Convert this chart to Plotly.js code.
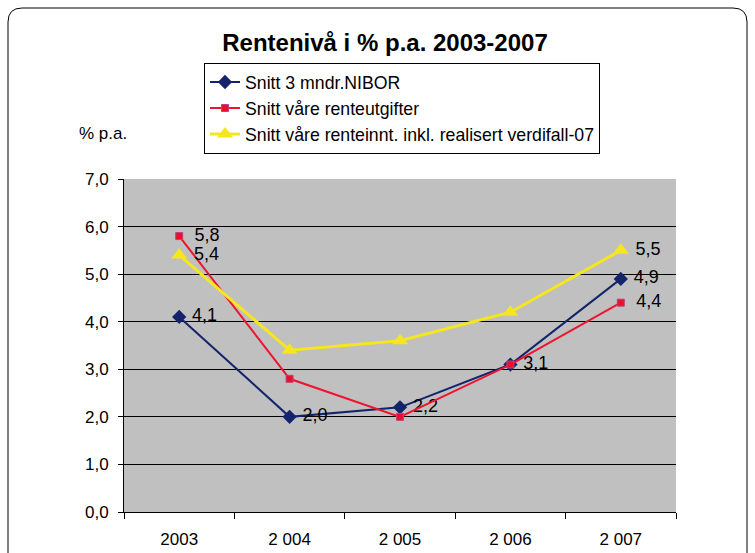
<!DOCTYPE html>
<html>
<head>
<meta charset="utf-8">
<script src="https://cdn.plot.ly/plotly-3.0.1.min.js"></script>
<style>
html,body{margin:0;padding:0;background:#fff;}
#chart{width:755px;height:553px;}
</style>
</head>
<body>
<div id="chart"></div>
<script>
const categories = ["2003", "2 004", "2 005", "2 006", "2 007"];
const seriesNames = ["Snitt 3 mndr.NIBOR", "Snitt våre renteutgifter", "Snitt våre renteinnt. inkl. realisert verdifall-07"];
const nibor = [4.1, 2.0, 2.2, 3.1, 4.9];
const utgifter = [5.8, 2.8, 2.0, 3.1, 4.4];
const inntekter = [5.4, 3.4, 3.6, 4.2, 5.5];
const niborLabels = ["4,1", "2,0", "2,2", "3,1", "4,9"];
const utgifterLabels = ["5,8", "", "", "", "4,4"];
const inntekterLabels = ["5,4", "", "", "", "5,5"];
const yTickVals = [0, 1, 2, 3, 4, 5, 6, 7];
const yTickText = ["0,0", "1,0", "2,0", "3,0", "4,0", "5,0", "6,0", "7,0"];

const W = 755, H = 553;
const M = {l: 124, r: 79, t: 179, b: 41};
const pw = W - M.l - M.r, ph = H - M.t - M.b;
const px = x => (x - M.l) / pw;
const py = y => (H - M.b - y) / ph;

const FF = "Liberation Sans, Arial, sans-serif";
const labelFont = {family: FF, size: 18, color: "#000"};
const sp1 = "\u00a0", sp2 = "\u00a0\u00a0";

const traces = [
  {
    x: categories, y: nibor, name: seriesNames[0], type: "scatter", mode: "lines+markers+text",
    text: niborLabels, texttemplate: sp1 + "%{text}", textposition: "middle right", textfont: labelFont,
    line: {color: "#14246B", width: 2},
    marker: {symbol: "diamond", size: 11, color: "#14246B"}
  },
  {
    x: categories, y: utgifter, name: seriesNames[1], type: "scatter", mode: "lines+markers+text",
    text: utgifterLabels, texttemplate: utgifterLabels.map(t => t ? sp2 + t : ""), textposition: "middle right", textfont: labelFont,
    line: {color: "#EE1430", width: 2},
    marker: {symbol: "square", size: 7, color: "#E8102A", line: {color: "#C04080", width: 1}}
  },
  {
    x: categories, y: inntekter, name: seriesNames[2], type: "scatter", mode: "lines+markers+text",
    text: inntekterLabels, texttemplate: inntekterLabels.map(t => t ? sp1 + t : ""), textposition: "middle right", textfont: labelFont,
    line: {color: "#F5E61E", width: 3},
    marker: {symbol: "triangle-up", size: 14, color: "#F5E61E"}
  }
];

// rounded outer frame (pixel -> paper)
const fl = 8, ft = 8, fr = 747, fb = 620, rad = 14;
const framePath = `M ${px(fl)} ${py(fb)} L ${px(fl)} ${py(ft+rad)} Q ${px(fl)} ${py(ft)} ${px(fl+rad)} ${py(ft)} L ${px(fr-rad)} ${py(ft)} Q ${px(fr)} ${py(ft)} ${px(fr)} ${py(ft+rad)} L ${px(fr)} ${py(fb)}`;

const layout = {
  width: W, height: H,
  margin: M,
  paper_bgcolor: "#fff",
  plot_bgcolor: "#C0C0C0",
  font: {family: FF, size: 17, color: "#000"},
  title: {
    text: "<b>Rentenivå i % p.a. 2003-2007</b>",
    font: {family: FF, size: 24, color: "#000"},
    xref: "container", yref: "container",
    x: 385 / W, xanchor: "center", y: 1 - 43 / H, yanchor: "middle"
  },
  showlegend: true,
  legend: {
    x: px(204), y: py(63), xanchor: "left", yanchor: "top",
    bgcolor: "#fff", bordercolor: "#000", borderwidth: 1,
    font: {family: FF, size: 17.7, color: "#000"},
    tracegroupgap: 0
  },
  xaxis: {
    type: "category",
    showgrid: false, zeroline: false,
    showline: true, linecolor: "#000", linewidth: 1,
    ticks: "outside", ticklen: 6, tickcolor: "#000", tickson: "boundaries",
    ticklabelstandoff: 12,
    tickfont: {size: 17},
    range: [-0.5, 4.5], fixedrange: true
  },
  yaxis: {
    range: [0, 7],
    tickvals: yTickVals, ticktext: yTickText,
    showgrid: true, gridcolor: "#000", gridwidth: 1,
    zeroline: false,
    showline: true, linecolor: "#000", linewidth: 1,
    ticks: "outside", ticklen: 5, tickcolor: "#000",
    ticklabelstandoff: 6,
    tickfont: {size: 17}
  },
  annotations: [
    {text: "% p.a.", xref: "paper", yref: "paper", x: px(77), y: py(133), xanchor: "left", yanchor: "middle", showarrow: false, font: {size: 17}}
  ],
  shapes: [
    {type: "path", xref: "paper", yref: "paper", path: framePath, line: {color: "#000", width: 1}, layer: "above"}
  ]
};

Plotly.newPlot("chart", traces, layout, {displayModeBar: false, staticPlot: true});
</script>
</body>
</html>
